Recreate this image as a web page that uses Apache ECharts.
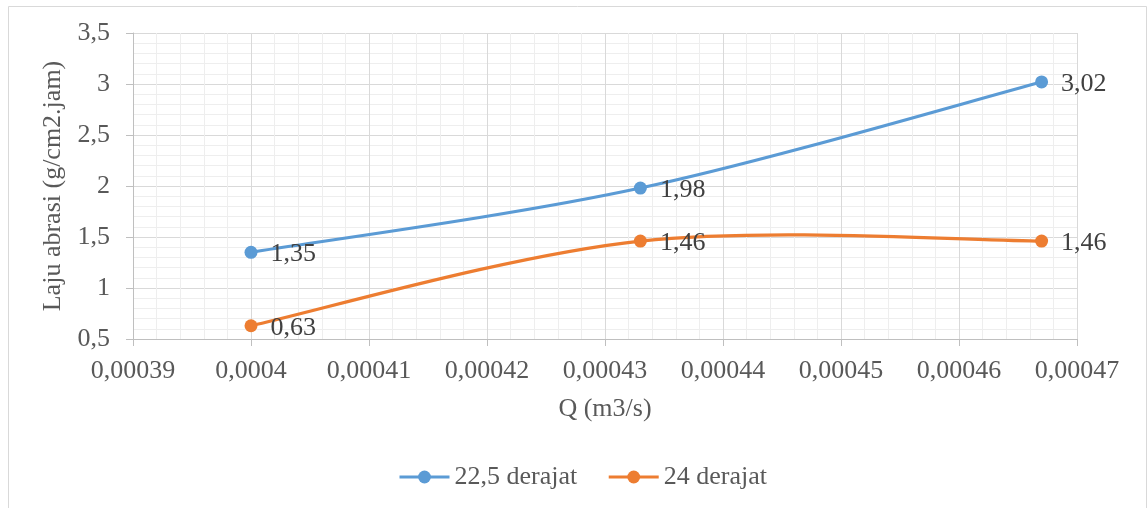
<!DOCTYPE html>
<html>
<head>
<meta charset="utf-8">
<script src="https://cdn.jsdelivr.net/npm/echarts@6/dist/echarts.min.js"></script>
<style>
  html, body { margin: 0; padding: 0; background: #fff; }
  #chart { width: 1148px; height: 508px; }
</style>
</head>
<body>
<div id="chart"></div>
<script>
// Flow rate Q (m3/s) at each measurement
const flowRates = [0.0004, 0.000433, 0.000467];
// Abrasion rate (g/cm2.jam) per angle
const rate225 = [1.35, 1.98, 3.02];
const rate24 = [0.63, 1.46, 1.46];
const seriesNames = ['22,5 derajat', '24 derajat'];
const xAxisTitle = 'Q (m3/s)';
const yAxisTitle = 'Laju abrasi (g/cm2.jam)';

const FONT = '"Liberation Serif", "Times New Roman", serif';
const FS = 26;
const comma = v => String(Number(v.toFixed(6))).replace('.', ',');

const pairs = vals => flowRates.map((x, i) => [x, vals[i]]);

// Smooth curve through the points (Catmull-Rom style cubic segments),
// each segment drawn from the data through the axis scales.
const makeCurve = (name, vals, color) => {
  const pts = pairs(vals);
  return {
    name: name + ' curve',
    type: 'custom',
    z: 2,
    silent: true,
    data: pts,
    renderItem: (params, api) => {
      const i = params.dataIndex;
      if (i >= pts.length - 1) return null;
      const c = k => api.coord(pts[Math.max(0, Math.min(pts.length - 1, k))]);
      const p0 = c(i - 1), p1 = c(i), p2 = c(i + 1), p3 = c(i + 2);
      return {
        type: 'bezierCurve',
        shape: {
          x1: p1[0], y1: p1[1],
          x2: p2[0], y2: p2[1],
          cpx1: p1[0] + (p2[0] - p0[0]) / 6,
          cpy1: p1[1] + (p2[1] - p0[1]) / 6,
          cpx2: p2[0] - (p3[0] - p1[0]) / 6,
          cpy2: p2[1] - (p3[1] - p1[1]) / 6
        },
        style: { stroke: color, lineWidth: 3.2, fill: null, lineCap: 'round' }
      };
    }
  };
};

// Markers and value labels (line itself drawn by the curve series)
const makeMarkers = (name, vals, color) => ({
  name,
  type: 'line',
  z: 3,
  data: pairs(vals),
  symbol: 'circle',
  symbolSize: 13,
  lineStyle: { width: 3, color, opacity: 0 },
  itemStyle: { color },
  label: {
    show: true,
    position: 'right',
    distance: 13,
    offset: [0, 2],
    fontFamily: FONT,
    fontSize: FS,
    color: '#404040',
    formatter: p => comma(p.value[1])
  }
});

const chart = echarts.init(document.getElementById('chart'));
chart.setOption({
  animation: false,
  backgroundColor: '#fff',
  graphic: [{
    type: 'rect',
    shape: { x: 8.5, y: 6.5, width: 1138, height: 540 },
    style: { fill: 'none', stroke: '#d9d9d9', lineWidth: 1 },
    silent: true
  }],
  grid: { left: 133, right: 71, top: 33, bottom: 169 },
  legend: {
    bottom: 13,
    left: 393,
    itemWidth: 50,
    itemHeight: 16,
    itemGap: 30,
    lineStyle: { opacity: 1, width: 3 },
    textStyle: { fontFamily: FONT, fontSize: FS, color: '#595959' },
    data: seriesNames
  },
  xAxis: {
    type: 'value',
    min: 0.00039,
    max: 0.00047,
    interval: 0.00001,
    name: xAxisTitle,
    nameLocation: 'middle',
    nameGap: 57,
    nameTextStyle: { fontFamily: FONT, fontSize: FS, color: '#595959' },
    axisLine: { show: true, lineStyle: { color: '#bfbfbf', width: 1 } },
    axisTick: { show: true, length: 7, lineStyle: { color: '#bfbfbf' } },
    axisLabel: { fontFamily: FONT, fontSize: FS, color: '#595959', margin: 19, formatter: comma },
    splitLine: { show: true, lineStyle: { color: '#d9d9d9', width: 1 } },
    minorTick: { show: false, splitNumber: 5 },
    minorSplitLine: { show: true, lineStyle: { color: '#eeeeee', width: 1 } }
  },
  yAxis: {
    type: 'value',
    min: 0.5,
    max: 3.5,
    interval: 0.5,
    name: yAxisTitle,
    nameLocation: 'middle',
    nameGap: 61,
    nameRotate: 90,
    nameTextStyle: { fontFamily: FONT, fontSize: FS, color: '#595959' },
    axisLine: { show: true, lineStyle: { color: '#bfbfbf', width: 1 } },
    axisTick: { show: true, length: 7, lineStyle: { color: '#bfbfbf' } },
    axisLabel: { fontFamily: FONT, fontSize: FS, color: '#595959', margin: 23, formatter: comma },
    splitLine: { show: true, lineStyle: { color: '#d9d9d9', width: 1 } },
    minorTick: { show: false, splitNumber: 5 },
    minorSplitLine: { show: true, lineStyle: { color: '#eeeeee', width: 1 } }
  },
  series: [
    makeCurve(seriesNames[0], rate225, '#5B9BD5'),
    makeCurve(seriesNames[1], rate24, '#ED7D31'),
    makeMarkers(seriesNames[0], rate225, '#5B9BD5'),
    makeMarkers(seriesNames[1], rate24, '#ED7D31')
  ]
});
</script>
</body>
</html>
